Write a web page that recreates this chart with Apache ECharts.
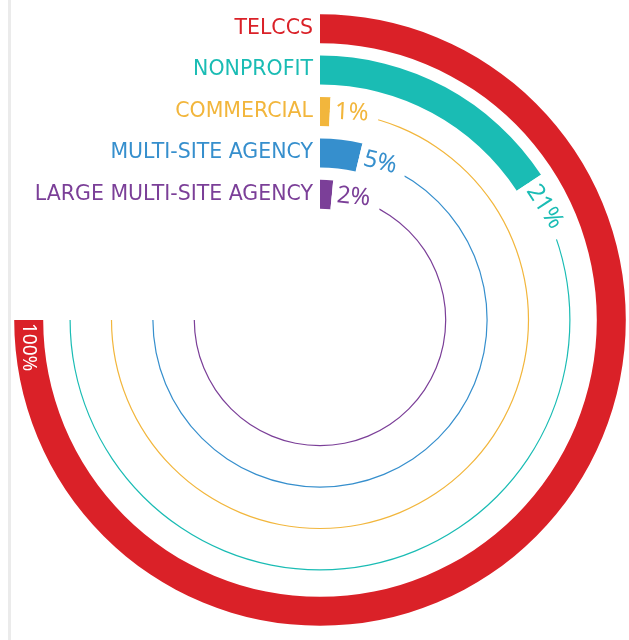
<!DOCTYPE html>
<html>
<head>
<meta charset="utf-8">
<script src="https://cdn.jsdelivr.net/npm/echarts@6/dist/echarts.min.js"></script>
<style>
  html, body { margin: 0; padding: 0; background: #fff; }
  #chart { width: 629px; height: 640px; }
</style>
</head>
<body>
<div id="chart"></div>
<script>
// rings, outer to inner
const categories = ['TELCCS', 'NONPROFIT', 'COMMERCIAL', 'MULTI-SITE AGENCY', 'LARGE MULTI-SITE AGENCY'];
const values = [100, 21, 1, 5, 2];
const trackValues = [100, 100, 100, 100, 100];
const colors = ['#DA2128', '#1ABCB4', '#F2B63C', '#368FCD', '#7B3F98'];

const FONT = '"Noto Sans", sans-serif';
const CAT_FONT = '"DejaVu Sans", sans-serif';
const FULL = 100 / 0.75; // 100% fills 270 degrees

const chart = echarts.init(document.getElementById('chart'));

const polarBox = { center: [320, 320], radius: [105, 312] };

chart.setOption({
  animation: false,
  graphic: [{
    type: 'rect',
    shape: { x: 8, y: 0, width: 3, height: 640 },
    style: { fill: '#ebebeb' },
    z: -1
  }],
  polar: [polarBox, polarBox],
  angleAxis: [
    { polarIndex: 0, type: 'value', min: 0, max: FULL, startAngle: 90, clockwise: true, show: false },
    { polarIndex: 1, type: 'value', min: 0, max: FULL, startAngle: 90, clockwise: true, show: false }
  ],
  radiusAxis: [{
    polarIndex: 0,
    type: 'category',
    data: categories,
    inverse: true,
    axisLine: { show: false },
    axisTick: { show: false },
    splitLine: { show: false },
    axisLabel: {
      interval: 0,
      margin: 7,
      fontFamily: CAT_FONT,
      fontSize: 20.5,
      color: (val) => colors[categories.indexOf(val)]
    }
  }, {
    polarIndex: 1,
    type: 'category',
    data: categories,
    inverse: true,
    show: false
  }],
  series: [{
    // thin track lines
    type: 'bar',
    coordinateSystem: 'polar',
    polarIndex: 1,
    barWidth: 1.2,
    z: 1,
    silent: true,
    data: trackValues.map((v, i) => ({ value: v, itemStyle: { color: colors[i] } }))
  }, {
    type: 'bar',
    coordinateSystem: 'polar',
    polarIndex: 0,
    barWidth: 29,
    z: 3,
    label: {
      show: true,
      position: 'end',
      distance: 0,
      fontFamily: FONT,
      fontSize: 24,
      backgroundColor: '#fff',
      padding: [2, 10, 2, 5],
      formatter: '{c}%'
    },
    data: values.map((v, i) => {
      const item = { value: v, itemStyle: { color: colors[i] }, label: { color: colors[i] } };
      if (v >= 100) {
        item.label = {
          position: 'insideEnd',
          distance: 3,
          color: '#fff',
          backgroundColor: 'transparent',
          padding: 0,
          rotate: -Math.PI / 2, // taken as radians here
          align: 'left',
          verticalAlign: 'middle',
          fontSize: 19
        };
      }
      return item;
    })
  }]
});
</script>
</body>
</html>
